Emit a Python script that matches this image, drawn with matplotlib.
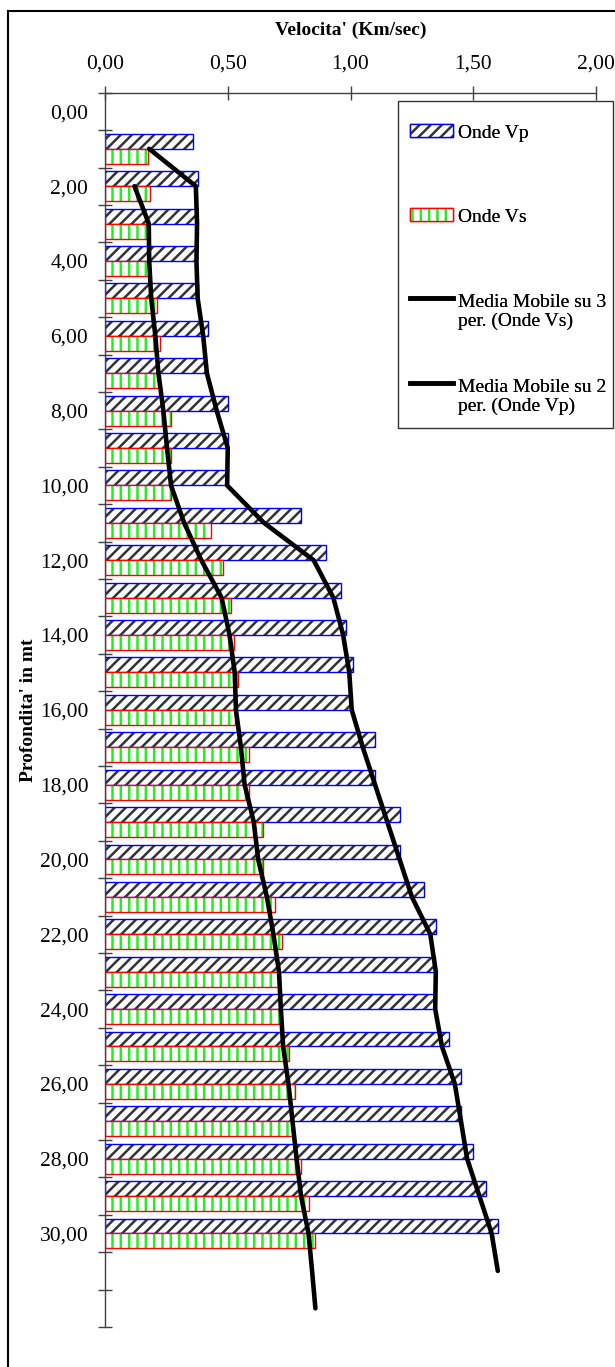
import numpy as np
import matplotlib.pyplot as plt
from matplotlib.patches import Patch, Rectangle
from matplotlib.lines import Line2D
from matplotlib.legend_handler import HandlerLine2D

plt.rcParams['font.family'] = ['Liberation Serif', 'DejaVu Serif']
plt.rcParams['hatch.linewidth'] = 1.8

# category slots: 0..32 (0,00 .. 32,00 m), bars only from 1 to 30
n_slots = 33
tick_labels = ["%d,00" % d for d in range(0, 31, 2)]

vp = [0.00, 0.36, 0.38, 0.37, 0.375, 0.38, 0.42, 0.41, 0.50, 0.50, 0.495,
      0.80, 0.90, 0.96, 0.98, 1.01, 1.00, 1.10, 1.10, 1.20, 1.20,
      1.30, 1.35, 1.345, 1.345, 1.40, 1.45, 1.45, 1.50, 1.55, 1.60]
vs = [0.00, 0.175, 0.185, 0.175, 0.18, 0.21, 0.225, 0.218, 0.27, 0.27, 0.267,
      0.43, 0.48, 0.515, 0.527, 0.543, 0.53, 0.588, 0.588, 0.642, 0.642,
      0.694, 0.722, 0.71, 0.717, 0.75, 0.775, 0.766, 0.80, 0.83, 0.857]

vp_full = np.full(n_slots, np.nan)
vp_full[:len(vp)] = vp
vs_full = np.full(n_slots, np.nan)
vs_full[:len(vs)] = vs
slots = np.arange(n_slots)


def mov_avg(v, n):
    # excel style moving average trendline, blanks are skipped
    out = np.full(len(v), np.nan)
    for i in range(n - 1, len(v)):
        w = v[i - n + 1:i + 1]
        if np.any(~np.isnan(w)):
            out[i] = np.nanmean(w)
    return out


class HandlerLineUp(HandlerLine2D):
    # put the line next to the first row of a two-row label
    def __init__(self, shift, **kw):
        super().__init__(**kw)
        self.shift = shift

    def create_artists(self, legend, orig_handle, xdescent, ydescent, width, height,
                       fontsize, trans):
        arts = super().create_artists(legend, orig_handle, xdescent, ydescent, width,
                                      height, fontsize, trans)
        for a in arts:
            a.set_ydata(np.asarray(a.get_ydata()) + self.shift)
        return arts


ma_vs = mov_avg(vs_full, 3)
ma_vp = mov_avg(vp_full, 2)

W, H = 615, 1367
fig = plt.figure(figsize=(W / 100, H / 100), dpi=100)
ax = fig.add_axes([105 / W, 1 - 1327 / H, (596 - 105) / W, (1327 - 92.7) / H])

m = np.array(vp) > 0
y = slots[:len(vp)][m]
vpa = np.array(vp)[m]
vsa = np.array(vs)[m]

ax.barh(y - 0.2, vpa, height=0.4, color='white', edgecolor='#333333', hatch='///', linewidth=0)
ax.barh(y - 0.2, vpa, height=0.4, fill=False, edgecolor='blue', linewidth=1)
ax.barh(y + 0.2, vsa, height=0.4, color='white', edgecolor='#22ee22', hatch='||', linewidth=0)
ax.barh(y + 0.2, vsa, height=0.4, fill=False, edgecolor='red', linewidth=1)

ax.plot(ma_vs, slots, color='black', lw=3.3, solid_capstyle='round')
ax.plot(ma_vp, slots, color='black', lw=3.3, solid_capstyle='round')

ax.set_xlim(0, 2)
ax.set_ylim(n_slots - 0.5, -0.5)

ax.xaxis.tick_top()
xt = np.arange(0, 2.01, 0.5)
ax.set_xticks(xt)
ax.set_xticklabels([("%.2f" % v).replace('.', ',') for v in xt])
ax.tick_params(axis='x', direction='inout', length=10, width=1, color='#404040',
               labelsize=15.5, pad=9)

ax.set_yticks(np.arange(-0.5, n_slots, 1))
ax.set_yticklabels([])
ax.set_yticks(np.arange(0, 31, 2), minor=True)
ax.set_yticklabels(tick_labels, minor=True)
ax.tick_params(axis='y', which='major', direction='inout', length=10, width=1, color='#404040')
ax.tick_params(axis='y', which='minor', length=0, labelsize=15.5, pad=12)

for s in ['right', 'bottom']:
    ax.spines[s].set_visible(False)
for s in ['left', 'top']:
    ax.spines[s].set_color('#404040')
    ax.spines[s].set_linewidth(1)

ax.xaxis.set_label_position('top')
ax.set_xlabel("Velocita' (Km/sec)", fontsize=14, fontweight='bold', labelpad=14)
ax.set_ylabel("Profondita' in mt", fontsize=14, fontweight='bold', labelpad=2)

# legend entries, each placed at its own row like the excel legend
handles = [
    (Patch(facecolor='white', edgecolor='#333333', hatch='///', linewidth=0),
     Patch(fill=False, edgecolor='blue', linewidth=1)),
    (Patch(facecolor='white', edgecolor='#22ee22', hatch='||', linewidth=0),
     Patch(fill=False, edgecolor='red', linewidth=1)),
    Line2D([], [], color='black', lw=3.3),
    Line2D([], [], color='black', lw=3.3),
]
labels = ['Onde Vp', 'Onde Vs', 'Media Mobile su 3\nper. (Onde Vs)',
          'Media Mobile su 2\nper. (Onde Vp)']
rows = [133, 217, 312, 397]
for h, lab, yc in zip(handles, labels, rows):
    hm = {Line2D: HandlerLineUp(10)}
    leg = fig.legend([h], [lab], loc='center left', bbox_to_anchor=(410 / W, 1 - yc / H),
                     fontsize=14, frameon=False, handlelength=2.2, handleheight=0.6,
                     handletextpad=0.25, borderpad=0, borderaxespad=0, handler_map=hm)
    fig.add_artist(leg)

# legend box
fig.add_artist(Rectangle((398 / W, 1 - 428 / H), 215 / W, 327 / H, transform=fig.transFigure,
                         fill=False, edgecolor='#333333', linewidth=1))

# outer chart frame (right and bottom edges fall outside the image)
fig.add_artist(Rectangle((8 / W, -0.1), 1.1, 1 - 11 / H + 0.1, transform=fig.transFigure,
                         fill=False, edgecolor='black', linewidth=1.5))

fig.savefig('out.png', dpi=100)
